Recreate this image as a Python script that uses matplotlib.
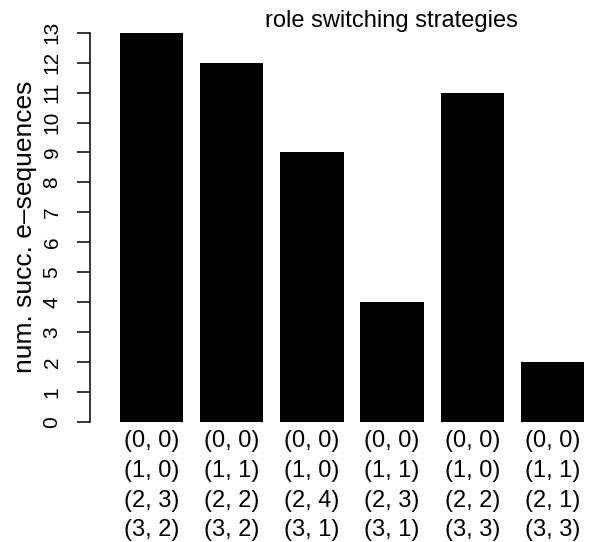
import numpy as np
import matplotlib
matplotlib.use('Agg')
import matplotlib.pyplot as plt

plt.rcParams['font.family'] = ['Liberation Sans', 'DejaVu Sans']

# datos del grafico
strategies = [
    ['(0, 0)', '(1, 0)', '(2, 3)', '(3, 2)'],
    ['(0, 0)', '(1, 1)', '(2, 2)', '(3, 2)'],
    ['(0, 0)', '(1, 0)', '(2, 4)', '(3, 1)'],
    ['(0, 0)', '(1, 1)', '(2, 3)', '(3, 1)'],
    ['(0, 0)', '(1, 0)', '(2, 2)', '(3, 3)'],
    ['(0, 0)', '(1, 1)', '(2, 1)', '(3, 3)'],
]
counts = [13, 12, 9, 4, 11, 2]
yticks = list(range(0, 14))

fig = plt.figure(figsize=(5.94, 5.42), dpi=100)
ax = fig.add_axes([90/594, 120/542, 504/594, 389.3/542])

x = np.arange(len(counts))
ax.bar(x, counts, width=0.79, color='black')

ax.set_xlim(-0.77, 5.52)
ax.set_ylim(0, 13)

# estilo tipo R
for s in ['top', 'right', 'bottom']:
    ax.spines[s].set_visible(False)
ax.spines['left'].set_bounds(0, 13)
ax.spines['left'].set_linewidth(1.1)

ax.set_yticks(yticks)
ax.set_yticklabels([str(t) for t in yticks], fontsize=15, rotation=90, va='center')
ax.tick_params(axis='y', length=9.5, width=1.1, pad=11)

ax.set_xticks(x)
ax.set_xticklabels(['\n'.join(s) for s in strategies], fontsize=17, linespacing=1.45)
ax.tick_params(axis='x', length=0, pad=6)

fig.text(25/594, 1 - 227/542, 'num. succ. e\u2013sequences', rotation=90,
         ha='center', va='center', fontsize=19)
fig.text(391/594, 1 - 21/542, 'role switching strategies',
         ha='center', va='center', fontsize=17)

fig.savefig('out.png', dpi=100)
